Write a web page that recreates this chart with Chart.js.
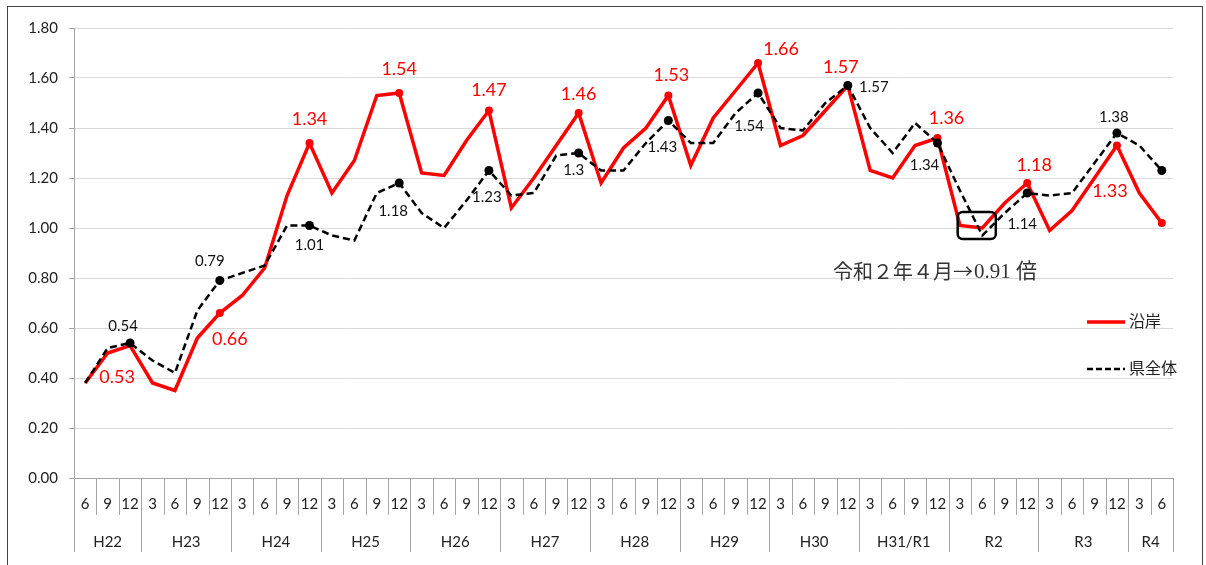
<!DOCTYPE html>
<html>
<head>
<meta charset="utf-8">
<script src="https://cdn.jsdelivr.net/npm/chart.js@4/dist/chart.umd.min.js"></script>
<style>
  html, body { margin:0; padding:0; background:#fff; }
  #wrap { position:relative; width:1206px; height:565px; overflow:hidden; }
  #frame { position:absolute; left:7px; top:6px; width:1196px; height:620px; border:1px solid #444; box-sizing:border-box; }
  #chart { position:absolute; left:0; top:0; }
</style>
</head>
<body>
<div id="wrap">
  <div id="frame"></div>
  <canvas id="chart" width="1206" height="565"></canvas>
</div>
<script>
// ==== データ ====
const months = ['6','9','12',
  '3','6','9','12', '3','6','9','12', '3','6','9','12', '3','6','9','12',
  '3','6','9','12', '3','6','9','12', '3','6','9','12', '3','6','9','12',
  '3','6','9','12', '3','6','9','12', '3','6','9','12',
  '3','6'];
const years = ['H22','H23','H24','H25','H26','H27','H28','H29','H30','H31/R1','R2','R3','R4'];

// 沿岸
const coastal = [0.38,0.50,0.53,0.38,0.35,0.56,0.66,0.73,0.84,1.13,1.34,1.14,1.27,1.53,1.54,1.22,1.21,1.35,1.47,1.08,
  1.20,1.33,1.46,1.18,1.32,1.40,1.53,1.25,1.44,1.55,1.66,1.33,1.37,1.47,1.57,1.23,1.20,1.33,1.36,1.01,
  1.00,1.10,1.18,0.99,1.07,1.20,1.33,1.14,1.02];
// 県全体
const prefecture = [0.38,0.52,0.54,0.47,0.42,0.67,0.79,0.82,0.85,1.01,1.01,0.97,0.95,1.14,1.18,1.06,1.00,1.11,1.23,1.13,
  1.14,1.29,1.30,1.23,1.23,1.34,1.43,1.34,1.34,1.46,1.54,1.40,1.39,1.50,1.57,1.40,1.30,1.42,1.34,1.15,
  0.97,1.06,1.14,1.13,1.14,1.26,1.38,1.33,1.23];

// マーカー・ラベル付きの点
const coastalMarks = [6,10,14,18,22,26,30,34,38,42,46,48];
const prefMarks = [2,6,10,14,18,22,26,30,34,38,42,46,48];
const coastalLabeled = [2,6,10,14,18,22,26,30,34,38,42,46];
const prefLabeled = [2,6,10,14,18,22,26,30,34,38,42,46];

const noteHead = '令和２年４月→';
const noteTail = '0.91 倍';

// ==== ラベル位置（点からのずれ） ====
const redOff = {2:[-13,32],6:[10,26],10:[0,-24],14:[0,-24],18:[0,-20],22:[0,-19],26:[3,-20],
  30:[23,-14],34:[-7,-18],38:[9,-20],42:[7,-18],46:[-7,46]};
const blackOff = {2:[-7,-17],6:[-10,-19],10:[0,20],14:[-6,28],18:[-2,27],22:[-5,17],26:[-6,27],
  30:[-9,33],34:[26,2],38:[-13,22],42:[-5,31],46:[-3,-16]};

const numFont = 'Lato, "Noto Sans", sans-serif';

const radii = (marks, r) => months.map((m,i) => marks.includes(i) ? r : 0);

const extras = {
  id: 'extras',
  afterDraw(chart){
    const ctx = chart.ctx;
    const xs = chart.scales.x, ys = chart.scales.y;
    const area = chart.chartArea;
    const w = (area.right - area.left) / months.length;

    // ---- x軸の区切り線と年ラベル ----
    ctx.save();
    ctx.strokeStyle = '#a6a6a6';
    ctx.lineWidth = 1;
    const starts = [0];
    months.forEach((m,i) => { if(i>0 && m==='3') starts.push(i); });
    starts.push(months.length);
    for(let i=0;i<=months.length;i++){
      const x = Math.round(area.left + i*w) + 0.5;
      const long = starts.includes(i);
      ctx.beginPath();
      ctx.moveTo(x, area.bottom);
      ctx.lineTo(x, area.bottom + (long ? 74 : 37));
      ctx.stroke();
    }
    ctx.fillStyle = '#222';
    ctx.font = '15px ' + numFont;
    ctx.textAlign = 'center';
    ctx.textBaseline = 'middle';
    years.forEach((y,k) => {
      const x = area.left + (starts[k] + starts[k+1]) / 2 * w;
      ctx.fillText(y, x, area.bottom + 64);
    });
    ctx.restore();

    // ---- データラベル ----
    ctx.save();
    ctx.textAlign = 'center';
    ctx.textBaseline = 'middle';
    ctx.fillStyle = '#ff0000';
    ctx.font = '18px ' + numFont;
    coastalLabeled.forEach(i => {
      const o = redOff[i];
      ctx.fillText(String(coastal[i]), xs.getPixelForValue(i) + o[0], ys.getPixelForValue(coastal[i]) + o[1]);
    });
    ctx.fillStyle = '#111';
    ctx.font = '15px ' + numFont;
    prefLabeled.forEach(i => {
      const o = blackOff[i];
      ctx.fillText(String(prefecture[i]), xs.getPixelForValue(i) + o[0], ys.getPixelForValue(prefecture[i]) + o[1]);
    });
    ctx.restore();

    // ---- 令和2年4月の枠 ----
    ctx.save();
    const bx1 = xs.getPixelForValue(38.9), bx2 = xs.getPixelForValue(40.6);
    const by1 = ys.getPixelForValue(1.064), by2 = ys.getPixelForValue(0.956);
    ctx.strokeStyle = '#000';
    ctx.lineWidth = 2.5;
    ctx.beginPath();
    ctx.roundRect(bx1, by1, bx2 - bx1, by2 - by1, 5);
    ctx.stroke();
    ctx.fillStyle = '#333';
    ctx.textAlign = 'left';
    ctx.textBaseline = 'middle';
    ctx.font = '20px "Noto Sans CJK JP", sans-serif';
    ctx.fillText(noteHead, 833, 271);
    const hw = ctx.measureText(noteHead).width;
    ctx.font = '21px "Liberation Serif", "Noto Sans CJK JP", serif';
    ctx.fillText(noteTail, 833 + hw + 1, 272);
    ctx.restore();

    // ---- 凡例 ----
    ctx.save();
    ctx.lineWidth = 3.5;
    ctx.strokeStyle = '#ff0000';
    ctx.beginPath(); ctx.moveTo(1087, 322); ctx.lineTo(1125, 322); ctx.stroke();
    ctx.lineWidth = 2.5;
    ctx.strokeStyle = '#000';
    ctx.setLineDash([6,3]);
    ctx.beginPath(); ctx.moveTo(1087, 369); ctx.lineTo(1125, 369); ctx.stroke();
    ctx.setLineDash([]);
    ctx.fillStyle = '#222';
    ctx.font = '16px "Noto Sans CJK JP", sans-serif';
    ctx.textAlign = 'left';
    ctx.textBaseline = 'middle';
    ctx.fillText('沿岸', 1129, 321);
    ctx.fillText('県全体', 1129, 368);
    ctx.restore();
  }
};

new Chart(document.getElementById('chart'), {
  type: 'line',
  data: {
    labels: months,
    datasets: [{
      label: '沿岸',
      data: coastal,
      borderColor: '#ff0000',
      backgroundColor: '#ff0000',
      borderWidth: 3.5,
      pointRadius: radii(coastalMarks, 4),
      pointBorderWidth: 0,
      pointBackgroundColor: '#ff0000',
      tension: 0,
      order: 1
    },{
      label: '県全体',
      data: prefecture,
      borderColor: '#000',
      backgroundColor: '#000',
      borderWidth: 2.5,
      borderDash: [7,4],
      pointRadius: radii(prefMarks, 4.5),
      pointBorderWidth: 0,
      pointBackgroundColor: '#000',
      tension: 0,
      order: 0
    }]
  },
  options: {
    responsive: false,
    animation: false,
    layout: { padding: { left: 7, right: 33, top: 28, bottom: 0 } },
    plugins: { legend: { display: false }, tooltip: { enabled: false } },
    scales: {
      x: {
        offset: true,
        grid: { display: true, drawOnChartArea: false, drawTicks: false },
        border: { display: true, color: '#a6a6a6' },
        ticks: { autoSkip: false, maxRotation: 0, padding: 17, color: '#222', font: { family: numFont, size: 15 } },
        afterFit: s => { s.height = 87; }
      },
      y: {
        min: 0, max: 1.8,
        ticks: { stepSize: 0.2, padding: 11, color: '#222', font: { family: numFont, size: 15 },
          callback: v => v.toFixed(2) },
        grid: { color: '#d9d9d9', tickColor: '#a6a6a6', tickLength: 5 },
        border: { display: true, color: '#a6a6a6' },
        afterFit: s => { s.width = 67; }
      }
    }
  },
  plugins: [extras]
});
</script>
</body>
</html>
